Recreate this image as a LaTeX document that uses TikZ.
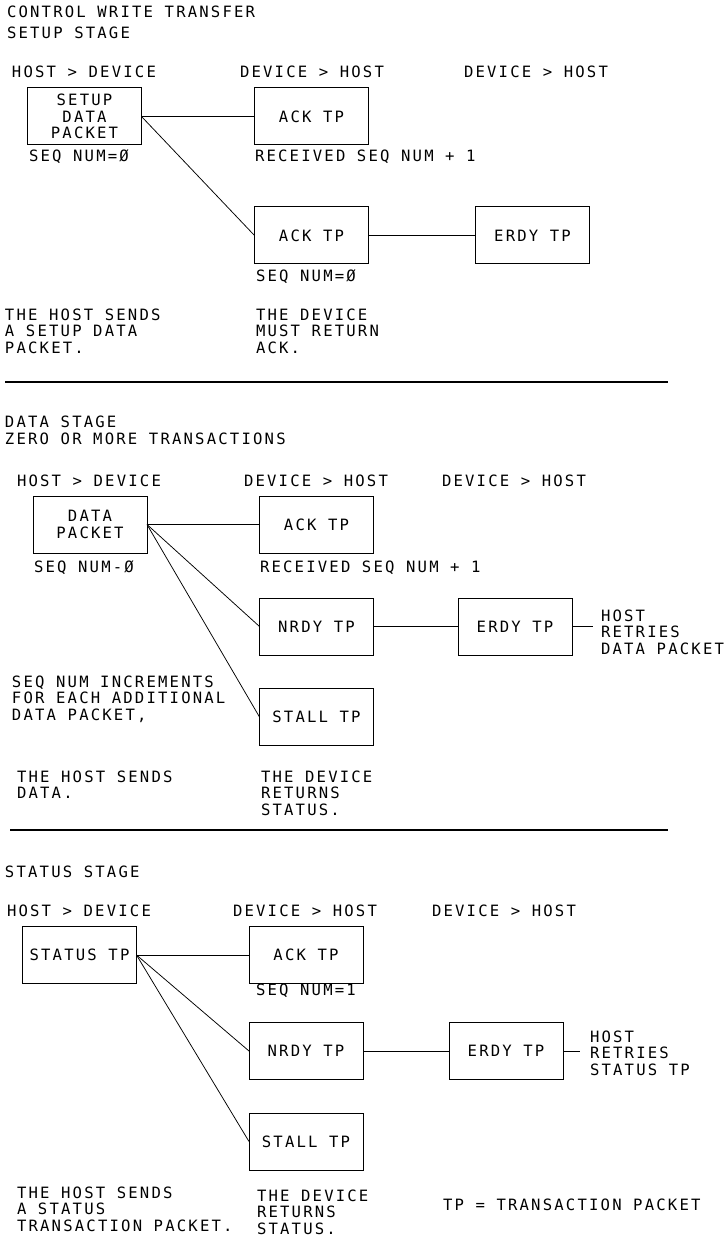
\documentclass[tikz,border=0pt]{standalone}
\usepackage{fontspec}
\newfontfamily\cadfont{DejaVu Sans Mono}[LetterSpace=14]
\newcommand{\cad}{\cadfont\fontsize{15.6}{16.5}\selectfont}
\tikzset{
  lbl/.style={anchor=base west, inner sep=0pt, outer sep=0pt, font=\cad, align=left},
  pkt/.style={draw, line width=1pt, minimum width=114pt, minimum height=57pt, inner sep=0pt, outer sep=0pt, font=\cad, align=center},
  wire/.style={line width=0.75pt},
  rulel/.style={line width=1.2pt}
}
\begin{document}
\begin{tikzpicture}[x=1pt,y=-1pt]
\useasboundingbox (0,0) rectangle (726,1238);
\fill[white] (0,0) rectangle (726,1238);

% ---------------- SETUP STAGE ----------------
% (multi-line labels are placed by the baseline of their last line)
\node[lbl] (t1) at (7,18) {CONTROL WRITE TRANSFER};
\node[lbl] (t2) at (7,39) {SETUP STAGE};
\node[lbl] (h1a) at (12,78) {HOST > DEVICE};
\node[lbl] (h1b) at (240,78) {DEVICE > HOST};
\node[lbl] (h1c) at (464,78) {DEVICE > HOST};

\node[pkt] (setup) at (84.5,116.5) {SETUP\\DATA\\PACKET};
\node[pkt] (ackA) at (311.5,116.5) {ACK TP};
\node[pkt] (ackB) at (311.5,235.5) {ACK TP};
\node[pkt] (erdyA) at (532.5,235.5) {ERDY TP};

\node[lbl] (sq1) at (29,162) {SEQ NUM=Ø};
\node[lbl] (rc1) at (255,162) {RECEIVED SEQ NUM + 1};
\node[lbl] (sq2) at (256,282) {SEQ NUM=Ø};
\node[lbl] (d1a) at (5,353) {THE HOST SENDS\\A SETUP DATA\\PACKET.};
\node[lbl] (d1b) at (256,353) {THE DEVICE\\MUST RETURN\\ACK.};

\draw[wire] (setup.east) -- (ackA.west);
\draw[wire] (setup.east) -- (ackB.west);
\draw[wire] (ackB.east) -- (erdyA.west);

\coordinate (r1a) at (5,382);
\coordinate (r1b) at (668,382);
\draw[rulel] (r1a) -- (r1b);

% ---------------- DATA STAGE ----------------
\node[lbl] (t3) at (5,427) {DATA STAGE};
\node[lbl] (t4) at (5,444) {ZERO OR MORE TRANSACTIONS};
\node[lbl] (h2a) at (17,486) {HOST > DEVICE};
\node[lbl] (h2b) at (244,486) {DEVICE > HOST};
\node[lbl] (h2c) at (442,486) {DEVICE > HOST};

\node[pkt] (data) at (90,524.5) {DATA\\PACKET};
\node[pkt] (ackC) at (316.5,524.5) {ACK TP};
\node[pkt] (nrdyA) at (316.5,626.5) {NRDY TP};
\node[pkt] (erdyB) at (515,626.5) {ERDY TP};
\node[pkt] (stallA) at (316.5,717) {STALL TP};
\coordinate (endB) at (593,626.5);

\node[lbl] (sq3) at (34,572) {SEQ NUM-Ø};
\node[lbl] (rc2) at (260,572) {RECEIVED SEQ NUM + 1};
\node[lbl] (rt1) at (601,654) {HOST\\RETRIES\\DATA PACKET};
\node[lbl] (inc) at (12,720) {SEQ NUM INCREMENTS\\FOR EACH ADDITIONAL\\DATA PACKET,};
\node[lbl] (d2a) at (17,798.5) {THE HOST SENDS\\DATA.};
\node[lbl] (d2b) at (261,815) {THE DEVICE\\RETURNS\\STATUS.};

\draw[wire] (data.east) -- (ackC.west);
\draw[wire] (data.east) -- (nrdyA.west);
\draw[wire] (data.east) -- (stallA.west);
\draw[wire] (nrdyA.east) -- (erdyB.west);
\draw[wire] (erdyB.east) -- (endB);

\coordinate (r2a) at (10,830);
\coordinate (r2b) at (668,830);
\draw[rulel] (r2a) -- (r2b);

% ---------------- STATUS STAGE ----------------
\node[lbl] (t5) at (5,877) {STATUS STAGE};
\node[lbl] (h3a) at (7,916) {HOST > DEVICE};
\node[lbl] (h3b) at (233,916) {DEVICE > HOST};
\node[lbl] (h3c) at (432,916) {DEVICE > HOST};

\node[pkt] (status) at (79.5,955) {STATUS TP};
\node[pkt] (ackD) at (306,955) {ACK TP};
\node[pkt] (nrdyB) at (306,1051) {NRDY TP};
\node[pkt] (erdyC) at (506,1051) {ERDY TP};
\node[pkt] (stallB) at (306,1141.5) {STALL TP};
\coordinate (endC) at (580,1051);

\node[lbl] (sq4) at (256,995) {SEQ NUM=1};
\node[lbl] (rt2) at (590,1075) {HOST\\RETRIES\\STATUS TP};
\node[lbl] (d3a) at (17,1231) {THE HOST SENDS\\A STATUS\\TRANSACTION PACKET.};
\node[lbl] (d3b) at (257,1234) {THE DEVICE\\RETURNS\\STATUS.};
\node[lbl] (leg) at (443,1210) {TP = TRANSACTION PACKET};

\draw[wire] (status.east) -- (ackD.west);
\draw[wire] (status.east) -- (nrdyB.west);
\draw[wire] (status.east) -- (stallB.west);
\draw[wire] (nrdyB.east) -- (erdyC.west);
\draw[wire] (erdyC.east) -- (endC);
\end{tikzpicture}
\end{document}
